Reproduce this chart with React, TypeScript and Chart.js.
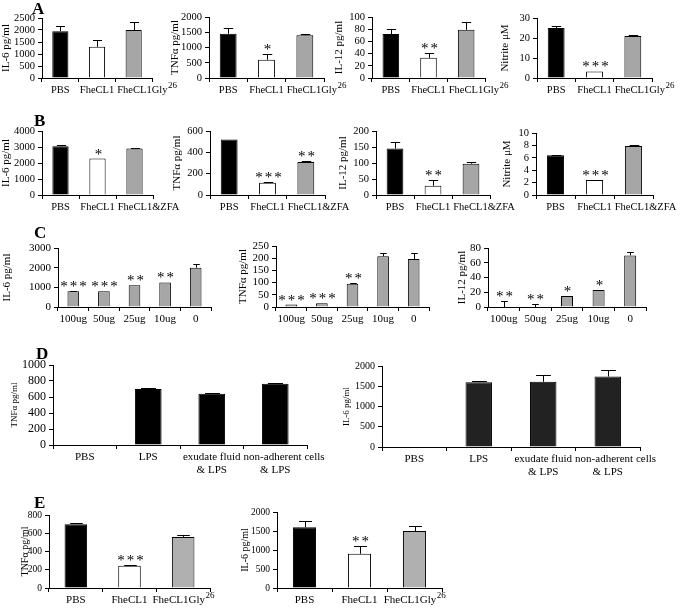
import React, { useEffect, useRef } from 'react';
import { Chart, registerables } from 'chart.js';

Chart.register(...registerables);

const FONT = '"Liberation Serif", "Times New Roman", serif';

// ---------- categories ('^' marks a superscript part) ----------
const catsGly = ['PBS', 'FheCL1', 'FheCL1Gly^26'];
const catsZFA = ['PBS', 'FheCL1', 'FheCL1&ZFA'];
const catsDose = ['100ug', '50ug', '25ug', '10ug', '0'];
const catsLPS = ['PBS', 'LPS', ['exudate fluid', '& LPS'], ['non-adherent cells', '& LPS']];

// ---------- panel A ----------
const aIL6 = [1950, 1300, 2000];
const aIL6Err = [230, 300, 320];
const aIL6Stars = ['', '', ''];
const aTNF = [1450, 600, 1400];
const aTNFErr = [180, 200, 40];
const aTNFStars = ['', '*', ''];
const aIL12 = [72, 33, 79];
const aIL12Err = [8, 8, 12];
const aIL12Stars = ['', '**', ''];
const aNitrite = [25, 3.3, 21];
const aNitriteErr = [1, 0, 0.3];
const aNitriteStars = ['', '***', ''];

// ---------- panel B ----------
const bIL6 = [3050, 2280, 2900];
const bIL6Err = [100, 0, 50];
const bIL6Stars = ['', '*', ''];
const bTNF = [520, 115, 310];
const bTNFErr = [0, 8, 5];
const bTNFStars = ['', '***', '**'];
const bIL12 = [145, 29, 98];
const bIL12Err = [20, 18, 5];
const bIL12Stars = ['', '**', ''];
const bNitrite = [6.4, 2.4, 7.9];
const bNitriteErr = [0.1, 0.1, 0.1];
const bNitriteStars = ['', '***', ''];

// ---------- panel C ----------
const cIL6 = [800, 800, 1100, 1250, 2000];
const cIL6Err = [20, 0, 0, 0, 200];
const cIL6Stars = ['***', '***', '**', '**', ''];
const cTNF = [10, 15, 95, 208, 197];
const cTNFErr = [0, 0, 3, 12, 25];
const cTNFStars = ['***', '***', '**', '', ''];
const cIL12 = [0, 0, 15, 23, 70];
const cIL12Err = [8, 4, 0, 0, 4];
const cIL12Stars = ['**', '**', '*', '*', ''];

// ---------- panel D ----------
const dTNF = [0, 700, 640, 765];
const dTNFErr = [0, 10, 8, 15];
const dIL6 = [0, 1600, 1610, 1740];
const dIL6Err = [0, 40, 170, 160];
const dStars = ['', '', '', ''];

// ---------- panel E ----------
const eTNF = [700, 245, 560];
const eTNFErr = [8, 8, 18];
const eTNFStars = ['', '***', ''];
const eIL6 = [1600, 900, 1500];
const eIL6Err = [170, 210, 130];
const eIL6Stars = ['', '**', ''];

// ---------- colours ----------
const GRAY = '#a6a6a6';
const colGly = ['#000000', '#ffffff', GRAY];
const colDose = [GRAY, GRAY, GRAY, GRAY, GRAY];
const colD1 = ['#000000', '#000000', '#000000', '#000000'];
const colD2 = ['#222222', '#222222', '#222222', '#222222'];
const colE = ['#000000', '#ffffff', '#b0b0b0'];

type Spec = {
  labels: any[];
  values: number[];
  errors: number[];
  stars: string[];
  colors: string[];
  yMax: number;
  yStep: number;
  yTitle: string;
  titleX: number;
  axisX: number;
  top: number;
  bottom: number;
  right: number;
  tickFont: number;
  catFont: number;
  titleFont: number;
  barPct: number;
  bh: number;
};

function BarPanel({ spec }: { spec: Spec }) {
  const ref = useRef<HTMLCanvasElement>(null);
  const titleLH = spec.titleFont * 1.2;
  const left = Math.round(spec.titleX - titleLH / 2);
  const LW = spec.axisX - left;
  const PT = 12;
  const PR = 50;
  const width = spec.right - spec.axisX + LW + PR;
  const height = spec.bottom - spec.top + PT + spec.bh;

  useEffect(() => {
    const errPlugin = {
      id: 'errbars',
      afterDatasetsDraw(chart: any) {
        const meta = chart.getDatasetMeta(0);
        const y = chart.scales.y;
        const ctx = chart.ctx;
        ctx.save();
        ctx.strokeStyle = '#000';
        ctx.lineWidth = 1;
        meta.data.forEach((bar: any, i: number) => {
          const v = spec.values[i];
          const e = spec.errors[i] || 0;
          const x = Math.round(bar.x) + 0.5;
          const w = bar.width;
          const yTop = Math.round(y.getPixelForValue(v + e)) + 0.5;
          const yBase = y.getPixelForValue(v);
          if (e > 0) {
            ctx.beginPath();
            ctx.moveTo(x, yBase);
            ctx.lineTo(x, yTop);
            ctx.moveTo(x - w * 0.28, yTop);
            ctx.lineTo(x + w * 0.28, yTop);
            ctx.stroke();
          }
          const s = spec.stars[i];
          if (s) {
            ctx.fillStyle = '#000';
            ctx.font = `15px ${FONT}`;
            (ctx as any).letterSpacing = '2px';
            ctx.textAlign = 'center';
            ctx.textBaseline = 'alphabetic';
            ctx.fillText(s, x + 1, yTop - 1);
            (ctx as any).letterSpacing = '0px';
          }
        });
        ctx.restore();
      },
      afterDraw(chart: any) {
        // category labels under the x axis, placed at the scale's tick centres;
        // a label that would run into its left neighbour is pushed right.
        const xs = chart.scales.x;
        const ctx = chart.ctx;
        const fs = spec.catFont;
        const supFs = Math.round(fs * 0.82);
        const lh = Math.round(fs * 1.2);
        const y0 = xs.top + 4 + 3;
        const prevEnd: number[] = [];
        ctx.save();
        ctx.fillStyle = '#000';
        ctx.textAlign = 'left';
        ctx.textBaseline = 'top';
        spec.labels.forEach((lab: any, i: number) => {
          const cx = xs.getPixelForValue(i);
          const lines: string[] = Array.isArray(lab) ? lab : [lab];
          lines.forEach((line, li) => {
            const [main, sup] = line.split('^');
            ctx.font = `${fs}px ${FONT}`;
            const wMain = ctx.measureText(main).width;
            ctx.font = `${supFs}px ${FONT}`;
            const wSup = sup ? ctx.measureText(sup).width : 0;
            const w = wMain + wSup;
            let start = cx - w / 2;
            const pe = prevEnd[li];
            if (pe !== undefined && start < pe + 3) start = pe + 3;
            const ly = y0 + li * lh;
            ctx.font = `${fs}px ${FONT}`;
            ctx.fillText(main, start, ly);
            if (sup) {
              ctx.font = `${supFs}px ${FONT}`;
              ctx.fillText(sup, start + wMain + 0.5, ly - 4);
            }
            prevEnd[li] = start + w;
          });
        });
        ctx.restore();
      },
    };

    const chart = new Chart(ref.current as HTMLCanvasElement, {
      type: 'bar',
      data: {
        labels: spec.labels.map((l: any) => (Array.isArray(l) ? l.join(' ') : l.replace('^', ''))),
        datasets: [
          {
            data: spec.values,
            backgroundColor: spec.colors,
            borderColor: '#000',
            borderWidth: 1,
            categoryPercentage: 1,
            barPercentage: spec.barPct,
          },
        ],
      },
      options: {
        animation: false,
        responsive: false,
        maintainAspectRatio: false,
        devicePixelRatio: 1,
        layout: { padding: { top: PT, right: PR, left: 0, bottom: 0 } },
        plugins: { legend: { display: false }, tooltip: { enabled: false } },
        scales: {
          x: {
            type: 'category',
            grid: {
              offset: true,
              drawOnChartArea: false,
              drawTicks: true,
              tickLength: 4,
              color: '#000',
            },
            border: { display: true, color: '#000', width: 1 },
            ticks: { display: false, autoSkip: false, maxRotation: 0, minRotation: 0 },
            afterFit: (s: any) => {
              s.height = spec.bh;
            },
          },
          y: {
            min: 0,
            max: spec.yMax,
            grid: {
              drawOnChartArea: false,
              drawTicks: true,
              tickLength: 4,
              color: '#000',
            },
            border: { display: true, color: '#000', width: 1 },
            ticks: {
              stepSize: spec.yStep,
              autoSkip: false,
              color: '#000',
              font: { family: FONT, size: spec.tickFont },
              padding: 3,
              callback: (v: any) => String(v),
            },
            title: {
              display: true,
              text: spec.yTitle,
              color: '#000',
              font: { family: FONT, size: spec.titleFont },
              padding: 0,
            },
            afterFit: (s: any) => {
              s.width = LW;
            },
          },
        },
      },
      plugins: [errPlugin],
    } as any);
    return () => chart.destroy();
  }, []);

  return (
    <canvas
      ref={ref}
      width={width}
      height={height}
      style={{ position: 'absolute', left, top: spec.top - PT, width, height }}
    />
  );
}

const base = { tickFont: 10.5, catFont: 10.5, titleFont: 11, barPct: 0.44, bh: 22 };

const specs: Spec[] = [
  // Row A
  { ...base, labels: catsGly, values: aIL6, errors: aIL6Err, stars: aIL6Stars, colors: colGly, yMax: 2500, yStep: 500, yTitle: 'IL-6 pg/ml', titleX: 7, axisX: 42, top: 18, bottom: 78, right: 152 },
  { ...base, labels: catsGly, values: aTNF, errors: aTNFErr, stars: aTNFStars, colors: colGly, yMax: 2000, yStep: 500, yTitle: 'TNFα pg/ml', titleX: 176, axisX: 209, top: 17, bottom: 78, right: 324 },
  { ...base, labels: catsGly, values: aIL12, errors: aIL12Err, stars: aIL12Stars, colors: colGly, yMax: 100, yStep: 20, yTitle: 'IL-12 pg/ml', titleX: 340, axisX: 372, top: 17, bottom: 78, right: 485 },
  { ...base, labels: catsGly, values: aNitrite, errors: aNitriteErr, stars: aNitriteStars, colors: colGly, yMax: 30, yStep: 10, yTitle: 'Nitrite μM', titleX: 506, axisX: 537, top: 18, bottom: 78, right: 652 },
  // Row B
  { ...base, labels: catsZFA, values: bIL6, errors: bIL6Err, stars: bIL6Stars, colors: colGly, yMax: 4000, yStep: 1000, yTitle: 'IL-6 pg/ml', titleX: 7, axisX: 42, top: 131, bottom: 195, right: 153 },
  { ...base, labels: catsZFA, values: bTNF, errors: bTNFErr, stars: bTNFStars, colors: colGly, yMax: 600, yStep: 200, yTitle: 'TNFα pg/ml', titleX: 178, axisX: 210, top: 131, bottom: 195, right: 325 },
  { ...base, labels: catsZFA, values: bIL12, errors: bIL12Err, stars: bIL12Stars, colors: colGly, yMax: 200, yStep: 50, yTitle: 'IL-12 pg/ml', titleX: 344, axisX: 376, top: 131, bottom: 195, right: 490 },
  { ...base, labels: catsZFA, values: bNitrite, errors: bNitriteErr, stars: bNitriteStars, colors: colGly, yMax: 10, yStep: 2, yTitle: 'Nitrite μM', titleX: 508, axisX: 536, top: 133, bottom: 195, right: 653 },
  // Row C
  { ...base, labels: catsDose, values: cIL6, errors: cIL6Err, stars: cIL6Stars, colors: colDose, yMax: 3000, yStep: 1000, yTitle: 'IL-6 pg/ml', titleX: 8, axisX: 58, top: 248, bottom: 307, right: 211, barPct: 0.38, catFont: 11, tickFont: 11 },
  { ...base, labels: catsDose, values: cTNF, errors: cTNFErr, stars: cTNFStars, colors: colDose, yMax: 250, yStep: 50, yTitle: 'TNFα pg/ml', titleX: 244, axisX: 276, top: 246, bottom: 307, right: 429, barPct: 0.38, catFont: 11, tickFont: 11 },
  { ...base, labels: catsDose, values: cIL12, errors: cIL12Err, stars: cIL12Stars, colors: colDose, yMax: 80, yStep: 20, yTitle: 'IL-12 pg/ml', titleX: 463, axisX: 488, top: 248, bottom: 307, right: 646, barPct: 0.38, catFont: 11, tickFont: 11 },
  // Row D
  { ...base, labels: catsLPS, values: dTNF, errors: dTNFErr, stars: dStars, colors: colD1, yMax: 1000, yStep: 200, yTitle: 'TNFα pg/ml', titleX: 14, axisX: 53, top: 365, bottom: 445, right: 307, tickFont: 12, catFont: 11, titleFont: 9, barPct: 0.42, bh: 36 },
  { ...base, labels: catsLPS, values: dIL6, errors: dIL6Err, stars: dStars, colors: colD2, yMax: 2000, yStep: 500, yTitle: 'IL-6 pg/ml', titleX: 346, axisX: 382, top: 366, bottom: 447, right: 640, tickFont: 10, catFont: 11, titleFont: 9, barPct: 0.41, bh: 36 },
  // Row E
  { ...base, labels: catsGly, values: eTNF, errors: eTNFErr, stars: eTNFStars, colors: colE, yMax: 800, yStep: 200, yTitle: 'TNFα pg/ml', titleX: 25, axisX: 49, top: 515, bottom: 588, right: 210, tickFont: 9.5, catFont: 11, titleFont: 10, barPct: 0.42 },
  { ...base, labels: catsGly, values: eIL6, errors: eIL6Err, stars: eIL6Stars, colors: colE, yMax: 2000, yStep: 500, yTitle: 'IL-6 pg/ml', titleX: 245, axisX: 277, top: 512, bottom: 588, right: 442, tickFont: 9.5, catFont: 11, titleFont: 10, barPct: 0.42 },
];

const letters = [
  { t: 'A', x: 32, y: 0 },
  { t: 'B', x: 34, y: 112 },
  { t: 'C', x: 34, y: 224 },
  { t: 'D', x: 36, y: 345 },
  { t: 'E', x: 34, y: 494 },
];

export default function App() {
  return (
    <div
      style={{
        position: 'absolute',
        left: 0,
        top: 0,
        width: 685,
        height: 608,
        background: '#fff',
        overflow: 'hidden',
      }}
    >
      {specs.map((s, i) => (
        <BarPanel key={i} spec={s} />
      ))}
      {letters.map((l) => (
        <div
          key={l.t}
          style={{
            position: 'absolute',
            left: l.x,
            top: l.y,
            fontFamily: FONT,
            fontWeight: 'bold',
            fontSize: 17,
            lineHeight: '17px',
            color: '#000',
          }}
        >
          {l.t}
        </div>
      ))}
    </div>
  );
}
